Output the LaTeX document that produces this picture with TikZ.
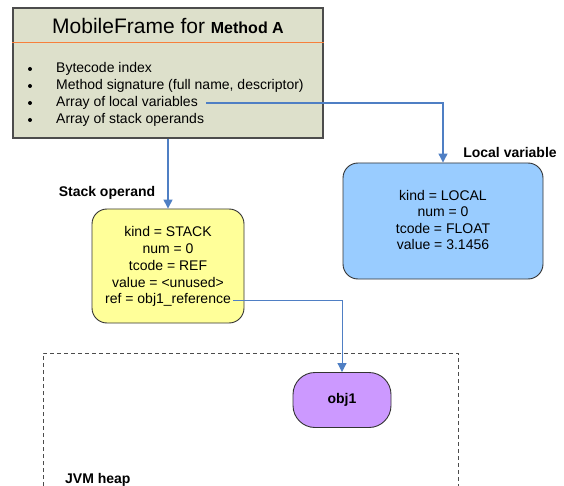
\documentclass[tikz,border=0pt]{standalone}
\usepackage{fontspec}
\setmainfont{Liberation Sans}
\usetikzlibrary{arrows.meta}
\definecolor{framegray}{HTML}{DDE0CB}
\definecolor{frameorange}{HTML}{F7803C}
\definecolor{stackyellow}{HTML}{FFFF99}
\definecolor{localblue}{HTML}{99CCFF}
\definecolor{objpurple}{HTML}{CC99FF}
\definecolor{linkblue}{HTML}{4F7FC4}
\tikzset{
  txt/.style={font=\fontsize{14}{17}\selectfont, inner sep=0pt},
  lbl/.style={font=\fontsize{14}{15}\selectfont\bfseries, inner sep=0pt},
  varbox/.style={draw=black!80, line width=0.9pt, rounded corners=15pt},
  link/.style={draw=linkblue, line width=1.4pt, -{Triangle[width=9pt,length=9pt]}}
}

\begin{document}
\begin{tikzpicture}[x=1pt,y=-1pt]
\useasboundingbox (0,0) rectangle (564,486);

% MobileFrame box
\node[draw=black!70, fill=framegray, line width=1.2pt, minimum width=310pt, minimum height=130pt, inner sep=0pt] (frame) at (168,73) {};
\node[inner sep=0pt] (title) at (168,26) {\fontsize{21}{23}\selectfont MobileFrame for \fontsize{16}{18}\selectfont\bfseries Method A};
\draw[frameorange, line width=1pt] (frame.west |- 0,43) -- (frame.east |- 0,43);
\foreach \t [count=\i] in {Bytecode index, {Method signature (full name, descriptor)}, Array of local variables, Array of stack operands} {
    \fill (30,52+17*\i) circle (2pt);
    \node[txt, anchor=west] (item\i) at (56,52+17*\i) {\t};
}

% Stack operand
\node[varbox, fill=stackyellow, minimum width=152pt, minimum height=114pt] (stack) at (168,266) {};
\node[txt, align=center] (stacktxt) at (168,257) {kind = STACK\\num = 0\\tcode = REF\\value = <unused>};
\node[txt] (stackref) at (168,300) {ref = obj1\_reference};
\node[lbl] (stacklbl) at (107,193) {Stack operand};

% Local variable
\node[varbox, fill=localblue, minimum width=200pt, minimum height=116pt] (local) at (443,221) {};
\node[txt, align=center, font=\fontsize{14}{16.3}\selectfont] (localtxt) at (443,220) {kind = LOCAL\\num = 0\\tcode = FLOAT\\value = 3.1456};
\node[lbl] (locallbl) at (510,152) {Local variable};

% JVM heap
\draw[black!70, dash pattern=on 4pt off 3pt, line width=0.8pt] (43,500) |- (458,353) -- (458,500);
\node[lbl, anchor=west] (heaplbl) at (65,480) {JVM heap};
\node[draw=black!80, fill=objpurple, line width=0.9pt, rounded corners=22pt, minimum width=98pt, minimum height=55pt] (obj) at (342,400) {\fontsize{14}{15}\selectfont\bfseries obj1};

% links
\draw[link] (frame.south) -- (stack.north);
\draw[link, line width=1.2pt] ([xshift=8pt]item3.east) -| (local.north);
\draw[link, line width=1pt] ([xshift=2pt]stackref.east) -| (obj.north);
\end{tikzpicture}
\end{document}
